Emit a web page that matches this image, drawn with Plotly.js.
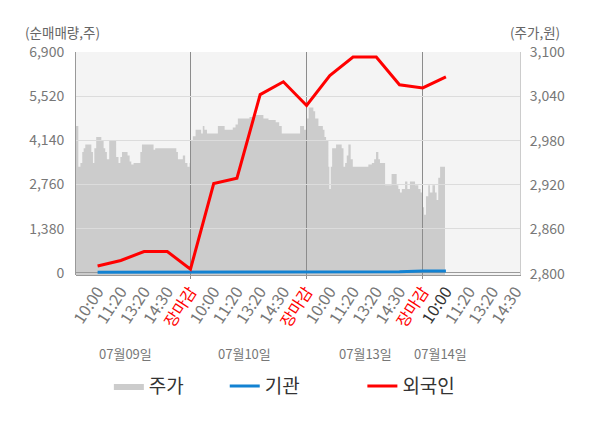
<!DOCTYPE html>
<html>
<head>
<meta charset="utf-8">
<script src="https://cdn.plot.ly/plotly-3.0.1.min.js"></script>
<style>
html,body{margin:0;padding:0;background:#fff;}
#chart{width:600px;height:428px;}
</style>
</head>
<body>
<div id="chart"></div>
<script>
// ---- data ----
const tickSlots = [1,2,3,4,5,6,7,8,9,10,11,12,13,14,15,16,17,18,19];
const tickLabels = ['10:00','11:20','13:20','14:30','장마감',
                    '10:00','11:20','13:20','14:30','장마감',
                    '10:00','11:20','13:20','14:30','장마감',
                    '10:00','11:20','13:20','14:30'];
const dayBoundaries = [5,10,15];
const dateLabels = ['07월09일','07월10일','07월13일','07월14일'];
const dateLabelSlots = [2.18, 7.34, 12.53, 15.78];

const flowSlots = [1,2,3,4,5,6,7,8,9,10,11,12,13,14,15,16];
const foreignNet = [220,390,670,670,120,2790,2960,5570,5970,5230,6165,6740,6740,5875,5780,6125];
const institutionNet = [20,20,20,20,20,20,20,20,20,20,20,20,20,40,60,60];

const priceSlots = [
  0,0.17,0.26,0.34,0.40,0.47,0.73,0.80,0.86,0.94,1.16,1.26,1.33,1.40,1.50,1.80,1.90,1.98,2.05,2.29,2.38,2.45,2.55,2.84,2.91,3.41,3.48,4.39,4.46,4.67,4.77,4.87,4.96,
  5.00,5.10,5.22,5.46,5.53,5.60,5.71,6.18,6.47,6.82,6.94,7.04,7.54,7.79,8.14,8.36,8.67,8.82,8.93,9.72,9.89,
  10.00,10.09,10.29,10.37,10.51,10.70,10.77,10.84,10.94,10.98,11.04,11.10,11.27,11.51,11.59,11.66,11.73,11.80,11.90,11.99,12.66,12.81,12.91,12.99,13.09,13.16,13.38,13.66,13.88,13.95,14.02,14.10,14.24,14.34,14.45,14.67,14.81,14.91,
  15.00,15.06,15.14,15.24,15.31,15.42,15.53,15.60,15.67,15.75,15.96
];
const priceValues = [
  3000,2945,2950,2965,2970,2975,2965,2950,2970,2985,2980,2970,2965,2955,2980,2958,2950,2958,2965,2960,2952,2948,2950,2965,2975,2968,2970,2965,2955,2960,2950,2945,2950,
  2980,2986,2995,2990,3000,2995,2990,3000,2995,2998,3002,3010,3012,3015,3010,3008,3005,3000,2990,3000,2995,
  3010,3025,3020,3010,3000,2995,2985,2980,2945,2915,2945,2970,2975,2970,2945,2950,2960,2975,2955,2945,2948,2950,2955,2965,2955,2950,2920,2935,2920,2915,2910,2915,2925,2915,2925,2920,2915,2910,
  2890,2880,2905,2920,2910,2920,2910,2900,2930,2945,2945
];

const leftTicks = [0,1380,2760,4140,5520,6900];
const rightTicks = [2800,2860,2920,2980,3040,3100];

// ---- styling ----
const FONT = '"Noto Sans CJK KR", "Noto Sans", sans-serif';
const styledTicks = tickLabels.map(function(t, i){
  if (t === '장마감') return '<span style="color:#ff0000">' + t + '</span>';
  if (i === 15) return '<span style="color:#333333">' + t + '</span>';
  return t;
});

const traces = [
  {
    type:'scatter', x:priceSlots, y:priceValues, xaxis:'x', yaxis:'y',
    mode:'lines', line:{shape:'hv', width:0, color:'#cccccc'},
    fill:'tozeroy', fillcolor:'#cccccc', name:'주가', legend:'legend', hoverinfo:'skip'
  },
  {
    type:'scatter', x:flowSlots, y:institutionNet, xaxis:'x2', yaxis:'y2',
    mode:'lines', line:{color:'#1282d2', width:3}, name:'기관', legend:'legend2'
  },
  {
    type:'scatter', x:flowSlots, y:foreignNet, xaxis:'x2', yaxis:'y2',
    mode:'lines', line:{color:'#ff0000', width:3}, name:'외국인', legend:'legend3'
  }
];

const annotations = [
  {xref:'paper', yref:'paper', x:-0.119, y:1.09, xanchor:'left', yanchor:'middle',
   text:'(순매매량,주)', showarrow:false, font:{size:13.5, color:'#666'}},
  {xref:'paper', yref:'paper', x:1.095, y:1.09, xanchor:'right', yanchor:'middle',
   text:'(주가,원)', showarrow:false, font:{size:13.5, color:'#666'}}
];
dateLabels.forEach(function(d, i){
  annotations.push({xref:'x', yref:'paper', x:dateLabelSlots[i], y:-0.354,
    xanchor:'center', yanchor:'middle', text:d, showarrow:false,
    font:{size:13, color:'#777'}});
});

const legendBase = {orientation:'h', y:-0.498, xanchor:'left', yanchor:'middle',
  font:{size:19, color:'#333', family:FONT}, bgcolor:'rgba(0,0,0,0)', borderwidth:0};

const layout = {
  width:600, height:428,
  margin:{l:76, r:80, t:52, b:153},
  paper_bgcolor:'#ffffff', plot_bgcolor:'rgba(0,0,0,0)',
  font:{family:FONT, size:14, color:'#777'},
  showlegend:true,
  hovermode:false,
  xaxis:{range:[0.07,19.19], tickvals:tickSlots, ticktext:styledTicks, tickangle:-57,
    showgrid:false, zeroline:false, showline:true, linecolor:'#999', ticks:'',
    tickfont:{size:16, color:'#777'}},
  yaxis:{range:[2798.6,3100], side:'right', anchor:'x', tickvals:rightTicks, tickformat:',d',
    showgrid:false, zeroline:false, showline:true, linecolor:'#cccccc', ticks:'',
    ticklabelstandoff:6, tickfont:{size:14, color:'#777'}},
  xaxis2:{range:[0.07,19.19], anchor:'y2', tickvals:dayBoundaries, showticklabels:false,
    showgrid:true, gridcolor:'#8c8c8c', gridwidth:1, zeroline:false, showline:false,
    ticks:'outside', ticklen:3, tickcolor:'#8c8c8c'},
  yaxis2:{range:[-63,6900], anchor:'x2', side:'left', tickvals:leftTicks, tickformat:',d',
    showgrid:true, gridcolor:'#dcdcdc', gridwidth:1, zeroline:true, zerolinecolor:'#9a9a9a',
    zerolinewidth:1, showline:true, linecolor:'#999', ticks:'', ticklabelstandoff:8,
    tickfont:{size:14, color:'#777'}},
  shapes:[{type:'rect', xref:'paper', yref:'paper', x0:0, x1:1, y0:0, y1:1,
    fillcolor:'#f4f4f4', line:{width:0}, layer:'below'}],
  annotations:annotations,
  legend:Object.assign({}, legendBase, {x:0.074}),
  legend2:Object.assign({}, legendBase, {x:0.335}),
  legend3:Object.assign({}, legendBase, {x:0.645})
};

Plotly.newPlot('chart', traces, layout, {displayModeBar:false, staticPlot:true});
</script>
</body>
</html>
